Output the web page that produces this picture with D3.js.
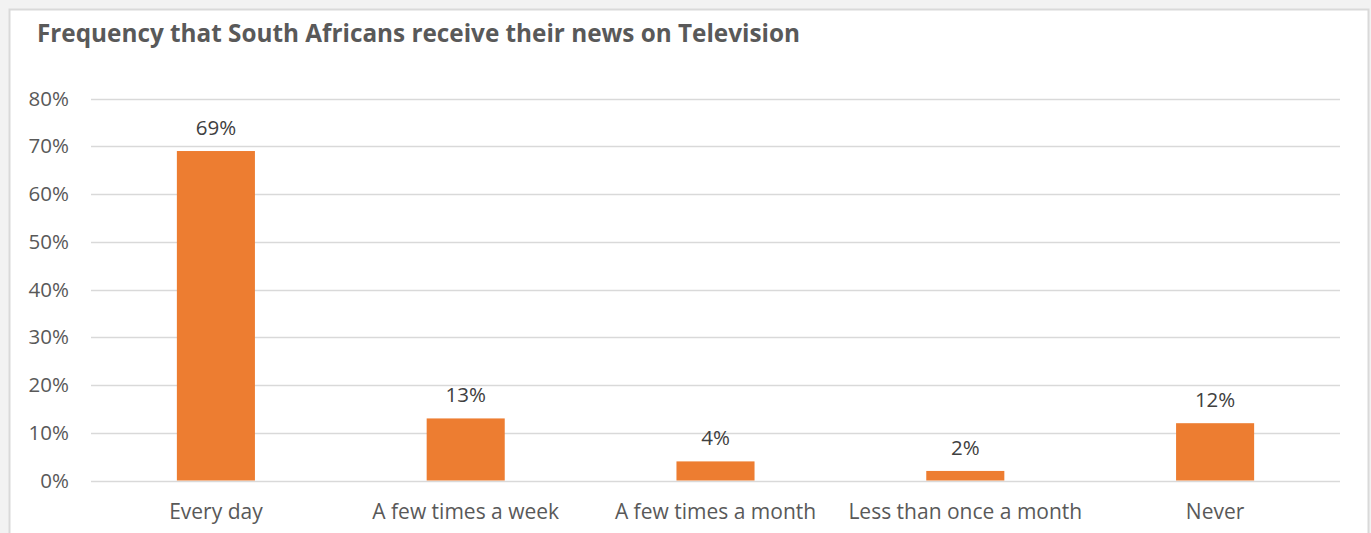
<!DOCTYPE html>
<html><head><meta charset="utf-8">
<script src="https://cdn.jsdelivr.net/npm/d3@7/dist/d3.min.js"></script>
<style>
html,body{margin:0;padding:0;background:#f2f2f2;}
svg{display:block;}
</style></head>
<body>
<svg id="chart" width="1371" height="533"></svg>
<script>
const title = "Frequency that South Africans receive their news on Television";
const categories = ["Every day","A few times a week","A few times a month","Less than once a month","Never"];
const values = [69, 13, 4, 2, 12];
const yTicks = [0,10,20,30,40,50,60,70,80];

const svg = d3.select("#chart");
const W = 1371, H = 533;
const font = "'Open Sans', sans-serif";
const textColor = "#595959";

svg.append("rect").attr("x",9.5).attr("y",9.5).attr("width",1359).attr("height",H)
  .attr("fill","#ffffff").attr("stroke","#d9d9d9").attr("stroke-width",2);

const margin = {left:91, right:1340, top:98.5, bottom:480.5};
const x = d3.scaleBand().domain(categories).range([margin.left, margin.right]).paddingInner(0.6875).paddingOuter(0.34375);
const y = d3.scaleLinear().domain([0,80]).range([margin.bottom, margin.top]);

svg.append("g").selectAll("line").data(yTicks).join("line")
  .attr("x1",margin.left).attr("x2",margin.right)
  .attr("y1",d=>Math.round(y(d))+0.5).attr("y2",d=>Math.round(y(d))+0.5)
  .attr("stroke","#d9d9d9").attr("stroke-width",1.5);

const yAxis = d3.axisLeft(y).tickValues(yTicks).tickFormat(d=>d+"%").tickSize(0).tickPadding(22);
const gy = svg.append("g").attr("transform",`translate(${margin.left},0)`).call(yAxis);
gy.select(".domain").remove();
gy.selectAll("text").attr("font-family",font).attr("font-size",20.5).attr("fill",textColor);

svg.append("g").selectAll("rect").data(values).join("rect")
  .attr("x",(d,i)=>x(categories[i]))
  .attr("width",x.bandwidth())
  .attr("y",d=>y(d))
  .attr("height",d=>y(0)-y(d))
  .attr("fill","#ed7d31");

svg.append("g").selectAll("text").data(values).join("text")
  .attr("x",(d,i)=>x(categories[i])+x.bandwidth()/2)
  .attr("y",d=>y(d)-16)
  .attr("text-anchor","middle")
  .attr("font-family",font).attr("font-size",20.5).attr("fill","#404040")
  .text(d=>d+"%");

const xAxis = d3.axisBottom(x).tickSize(0).tickPadding(24);
const gx = svg.append("g").attr("transform",`translate(0,${margin.bottom})`).call(xAxis);
gx.select(".domain").remove();
gx.selectAll("text").attr("font-family",font).attr("font-size",21).attr("fill",textColor);

svg.append("text").attr("x",37).attr("y",42)
  .attr("font-family",font).attr("font-size",24.3).attr("font-weight","bold").attr("fill",textColor)
  .text(title);
</script>
</body></html>
